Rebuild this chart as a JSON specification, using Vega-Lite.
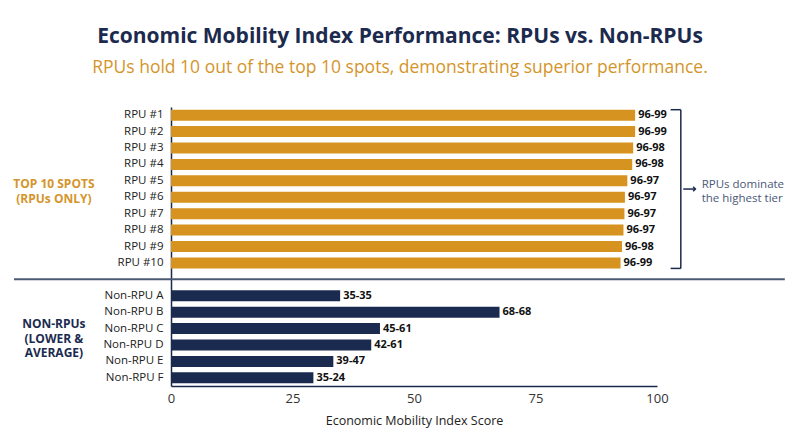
{
  "$schema": "https://vega.github.io/schema/vega-lite/v6.json",
  "width": 486,
  "height": 279,
  "autosize": {"type": "none"},
  "padding": {"left": 171, "top": 107, "right": 143, "bottom": 61},
  "background": "white",
  "config": {"view": {"stroke": null}, "font": "Open Sans"},
  "title": {
    "text": "Economic Mobility Index Performance: RPUs vs. Non-RPUs",
    "subtitle": "RPUs hold 10 out of the top 10 spots, demonstrating superior performance.",
    "anchor": "middle",
    "dx": -14,
    "font": "Open Sans",
    "fontSize": 21,
    "fontWeight": "bold",
    "color": "#1C2A4E",
    "subtitleFont": "Open Sans",
    "subtitleFontSize": 17.5,
    "subtitleColor": "#D4952B",
    "subtitlePadding": 12,
    "offset": 31
  },
  "datasets": {
    "bars": [
      {"name": "RPU #1", "group": "RPU", "score": 95.5, "range": "96-99"},
      {"name": "RPU #2", "group": "RPU", "score": 95.5, "range": "96-99"},
      {"name": "RPU #3", "group": "RPU", "score": 95.1, "range": "96-98"},
      {"name": "RPU #4", "group": "RPU", "score": 94.9, "range": "96-98"},
      {"name": "RPU #5", "group": "RPU", "score": 93.9, "range": "96-97"},
      {"name": "RPU #6", "group": "RPU", "score": 93.4, "range": "96-97"},
      {"name": "RPU #7", "group": "RPU", "score": 93.3, "range": "96-97"},
      {"name": "RPU #8", "group": "RPU", "score": 93.1, "range": "96-97"},
      {"name": "RPU #9", "group": "RPU", "score": 92.8, "range": "96-98"},
      {"name": "RPU #10", "group": "RPU", "score": 92.5, "range": "96-99"},
      {"name": "Non-RPU A", "group": "Non-RPU", "score": 34.8, "range": "35-35"},
      {"name": "Non-RPU B", "group": "Non-RPU", "score": 67.6, "range": "68-68"},
      {"name": "Non-RPU C", "group": "Non-RPU", "score": 43.0, "range": "45-61"},
      {"name": "Non-RPU D", "group": "Non-RPU", "score": 41.2, "range": "42-61"},
      {"name": "Non-RPU E", "group": "Non-RPU", "score": 33.4, "range": "39-47"},
      {"name": "Non-RPU F", "group": "Non-RPU", "score": 29.3, "range": "35-24"}
    ],
    "guides": [
      {"kind": "separator", "score": -32.3, "score2": 126.3, "name": "gap", "name2": "gap"},
      {"kind": "bracket", "score": 104.9, "score2": 104.9, "name": "RPU #1", "name2": "RPU #10"},
      {"kind": "hooktop", "score": 102.8, "score2": 104.9, "name": "RPU #1", "name2": "RPU #1"},
      {"kind": "hookbottom", "score": 102.8, "score2": 104.9, "name": "RPU #10", "name2": "RPU #10"},
      {"kind": "arrow", "score": 105.4, "score2": 107.9, "name": "RPU #5", "name2": "RPU #5"}
    ],
    "notes": [
      {"kind": "top", "text": "TOP 10 SPOTS\n(RPUs ONLY)", "score": -24.1, "name": "RPU #5"},
      {"kind": "bottom", "text": "NON-RPUs\n(LOWER &\nAVERAGE)", "score": -24.1, "name": "Non-RPU C"},
      {"kind": "side", "text": "RPUs dominate\nthe highest tier", "score": 109.2, "name": "RPU #5"}
    ]
  },
  "layer": [
    {
      "data": {"name": "bars"},
      "mark": {"type": "bar"},
      "encoding": {
        "y": {
          "field": "name",
          "type": "nominal",
          "scale": {
            "domain": ["RPU #1", "RPU #2", "RPU #3", "RPU #4", "RPU #5", "RPU #6", "RPU #7", "RPU #8", "RPU #9", "RPU #10", "gap",
                       "Non-RPU A", "Non-RPU B", "Non-RPU C", "Non-RPU D", "Non-RPU E", "Non-RPU F"],
            "paddingInner": 0.33,
            "paddingOuter": 0.165
          },
          "axis": {
            "title": null,
            "ticks": false,
            "labelPadding": 8,
            "labelFontSize": 11.5,
            "labelColor": "#222222",
            "labelExpr": "datum.value == 'gap' ? '' : datum.value",
            "domainColor": "#1B2A4A",
            "domainWidth": 1.5,
            "grid": false
          }
        },
        "x": {
          "field": "score",
          "type": "quantitative",
          "scale": {"domain": [0, 100]},
          "axis": {
            "title": "Economic Mobility Index Score",
            "titleFontWeight": "normal",
            "titleFontSize": 12.5,
            "titleColor": "#222222",
            "titlePadding": 9,
            "values": [0, 25, 50, 75, 100],
            "labelFlush": false,
            "ticks": false,
            "labelPadding": 6,
            "labelFontSize": 13,
            "labelColor": "#333333",
            "domainColor": "#1B2A4A",
            "domainWidth": 1.5,
            "grid": false
          }
        },
        "color": {
          "field": "group",
          "type": "nominal",
          "scale": {"domain": ["RPU", "Non-RPU"], "range": ["#D6931F", "#1B2B50"]},
          "legend": null
        }
      }
    },
    {
      "data": {"name": "bars"},
      "mark": {"type": "text", "align": "left", "dx": 3, "fontWeight": "bold", "fontSize": 11, "color": "#111111"},
      "encoding": {
        "y": {"field": "name", "type": "nominal"},
        "x": {"field": "score", "type": "quantitative"},
        "text": {"field": "range"}
      }
    },
    {
      "data": {"name": "guides"},
      "transform": [{"filter": "datum.kind == 'separator'"}],
      "mark": {"type": "rule", "color": "#4A5A72", "strokeWidth": 2},
      "encoding": {
        "y": {"field": "name", "type": "nominal"},
        "x": {"field": "score", "type": "quantitative"},
        "x2": {"field": "score2"}
      }
    },
    {
      "data": {"name": "guides"},
      "transform": [{"filter": "datum.kind == 'bracket'"}],
      "mark": {"type": "rule", "color": "#1B2A4A", "strokeWidth": 1.5},
      "encoding": {
        "y": {"field": "name", "type": "nominal", "bandPosition": 0},
        "y2": {"field": "name2", "bandPosition": 1},
        "x": {"field": "score", "type": "quantitative"}
      }
    },
    {
      "data": {"name": "guides"},
      "transform": [{"filter": "datum.kind == 'hooktop'"}],
      "mark": {"type": "rule", "color": "#1B2A4A", "strokeWidth": 1.5},
      "encoding": {
        "y": {"field": "name", "type": "nominal", "bandPosition": 0},
        "x": {"field": "score", "type": "quantitative"},
        "x2": {"field": "score2"}
      }
    },
    {
      "data": {"name": "guides"},
      "transform": [{"filter": "datum.kind == 'hookbottom'"}],
      "mark": {"type": "rule", "color": "#1B2A4A", "strokeWidth": 1.5},
      "encoding": {
        "y": {"field": "name", "type": "nominal", "bandPosition": 1},
        "x": {"field": "score", "type": "quantitative"},
        "x2": {"field": "score2"}
      }
    },
    {
      "data": {"name": "guides"},
      "transform": [{"filter": "datum.kind == 'arrow'"}],
      "mark": {"type": "rule", "color": "#1B2A4A", "strokeWidth": 1.5, "yOffset": 8.2},
      "encoding": {
        "y": {"field": "name", "type": "nominal"},
        "x": {"field": "score", "type": "quantitative"},
        "x2": {"field": "score2"}
      }
    },
    {
      "data": {"name": "guides"},
      "transform": [{"filter": "datum.kind == 'arrow'"}],
      "mark": {"type": "point", "shape": "M-1,-1L0,0L-1,1", "filled": false, "size": 20, "color": "#1B2A4A", "strokeWidth": 1.5, "opacity": 1, "yOffset": 8.2},
      "encoding": {
        "y": {"field": "name", "type": "nominal"},
        "x": {"field": "score2", "type": "quantitative"}
      }
    },
    {
      "data": {"name": "notes"},
      "transform": [{"filter": "datum.kind == 'top'"}],
      "mark": {"type": "text", "lineBreak": "\n", "lineHeight": 15, "align": "center", "baseline": "middle", "fontWeight": "bold", "fontSize": 12, "color": "#D4952B", "yOffset": 3.5},
      "encoding": {
        "y": {"field": "name", "type": "nominal"},
        "x": {"field": "score", "type": "quantitative"},
        "text": {"field": "text"}
      }
    },
    {
      "data": {"name": "notes"},
      "transform": [{"filter": "datum.kind == 'bottom'"}],
      "mark": {"type": "text", "lineBreak": "\n", "lineHeight": 14.5, "align": "center", "baseline": "middle", "fontWeight": "bold", "fontSize": 12, "color": "#1B2B50", "yOffset": -4.2},
      "encoding": {
        "y": {"field": "name", "type": "nominal"},
        "x": {"field": "score", "type": "quantitative"},
        "text": {"field": "text"}
      }
    },
    {
      "data": {"name": "notes"},
      "transform": [{"filter": "datum.kind == 'side'"}],
      "mark": {"type": "text", "lineBreak": "\n", "lineHeight": 14, "align": "left", "baseline": "middle", "fontSize": 11.5, "color": "#4A5878", "yOffset": 4.2},
      "encoding": {
        "y": {"field": "name", "type": "nominal"},
        "x": {"field": "score", "type": "quantitative"},
        "text": {"field": "text"}
      }
    }
  ]
}
